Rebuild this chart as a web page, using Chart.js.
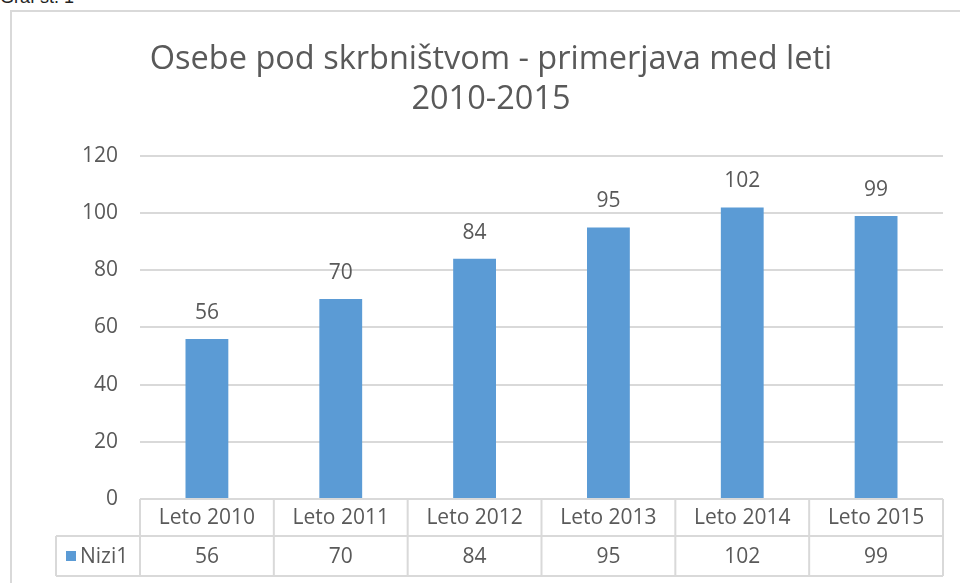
<!DOCTYPE html>
<html>
<head>
<meta charset="utf-8">
<script src="https://cdn.jsdelivr.net/npm/chart.js@4.4.0/dist/chart.umd.min.js"></script>
<style>
  body { margin: 0; background: #fff; overflow: hidden; width: 960px; height: 583px; position: relative; }
  #cap { position: absolute; left: 0; top: -13px; font: 18px "Liberation Sans", Arial, sans-serif; color: #222; }
  #box { position: absolute; left: 10px; top: 10px; width: 960px; height: 583px; border: 2px solid #d9d9d9; box-sizing: border-box; }
  #wrap { position: absolute; left: 0; top: 0; width: 948px; height: 571px; }
</style>
</head>
<body>
<div id="cap">Graf št. 1</div>
<div id="box"><div id="wrap"><canvas id="chart"></canvas></div></div>
<script>
const titleLines = ['Osebe pod skrbništvom - primerjava med leti', '2010-2015'];
const categories = ['Leto 2010', 'Leto 2011', 'Leto 2012', 'Leto 2013', 'Leto 2014', 'Leto 2015'];
const seriesName = 'Nizi1';
const values = [56, 70, 84, 95, 102, 99];
const yTicks = [0, 20, 40, 60, 80, 100, 120];

const barColor = '#5b9bd5';
const textColor = '#595959';
const lineColor = '#d9d9d9';
const fontFamily = '"Open Sans", Lato, sans-serif';
const labelSize = 21;

// value labels above bars
const valueLabels = {
    id: 'valueLabels',
    afterDatasetsDraw(chart) {
        const ctx = chart.ctx;
        const meta = chart.getDatasetMeta(0);
        ctx.save();
        ctx.font = labelSize + 'px ' + fontFamily;
        ctx.fillStyle = textColor;
        ctx.textAlign = 'center';
        ctx.textBaseline = 'middle';
        meta.data.forEach((bar, i) => {
            ctx.fillText(String(values[i]), bar.x, bar.y - 26);
        });
        ctx.restore();
    }
};

// data table under the plot, Excel style
const dataTable = {
    id: 'dataTable',
    afterDraw(chart) {
        const ctx = chart.ctx;
        const area = chart.chartArea;
        const xs = chart.scales.x;
        const n = categories.length;
        const step = (area.right - area.left) / n;
        const top = area.bottom;
        const mid = top + 37;
        const bottom = mid + 40;
        const legLeft = 44;
        ctx.save();
        ctx.strokeStyle = lineColor;
        ctx.lineWidth = 2;
        ctx.beginPath();
        ctx.moveTo(area.left, top); ctx.lineTo(area.right, top);
        ctx.moveTo(legLeft, mid); ctx.lineTo(area.right, mid);
        ctx.moveTo(legLeft, bottom); ctx.lineTo(area.right, bottom);
        ctx.moveTo(legLeft, mid); ctx.lineTo(legLeft, bottom);
        for (let i = 0; i <= n; i++) {
            const x = area.left + i * step;
            ctx.moveTo(x, top); ctx.lineTo(x, bottom);
        }
        ctx.stroke();

        ctx.font = labelSize + 'px ' + fontFamily;
        ctx.fillStyle = textColor;
        ctx.textAlign = 'center';
        ctx.textBaseline = 'middle';
        categories.forEach((c, i) => {
            const x = xs.getPixelForValue(i);
            ctx.fillText(c, x, (top + mid) / 2 + 1);
            ctx.fillText(String(values[i]), x, (mid + bottom) / 2 + 1);
        });
        ctx.fillStyle = barColor;
        ctx.fillRect(legLeft + 10, (mid + bottom) / 2 - 5, 10, 10);
        ctx.fillStyle = textColor;
        ctx.textAlign = 'left';
        ctx.fillText(seriesName, legLeft + 24, (mid + bottom) / 2 + 1);
        ctx.restore();
    }
};

new Chart(document.getElementById('chart'), {
    type: 'bar',
    data: {
        labels: categories,
        datasets: [{
            label: seriesName,
            data: values,
            backgroundColor: barColor,
            barPercentage: 0.32,
            categoryPercentage: 1
        }]
    },
    options: {
        responsive: true,
        maintainAspectRatio: false,
        animation: false,
        layout: { padding: { left: 27, right: 17, top: 0, bottom: 84 } },
        plugins: {
            legend: { display: false },
            tooltip: { enabled: false },
            title: {
                display: true,
                text: titleLines,
                color: textColor,
                font: { family: fontFamily, size: 32.5, weight: 'normal', lineHeight: 1.23 },
                padding: { top: 28, bottom: 36 }
            }
        },
        scales: {
            x: { display: false },
            y: {
                min: 0,
                max: 120,
                afterBuildTicks(scale) { scale.ticks = yTicks.map(v => ({ value: v })); },
                afterFit(scale) { scale.width = 101; },
                ticks: { color: textColor, font: { family: fontFamily, size: labelSize }, padding: 22 },
                grid: { color: lineColor, lineWidth: 2, drawTicks: false },
                border: { display: false }
            }
        }
    },
    plugins: [valueLabels, dataTable]
});
</script>
</body>
</html>
